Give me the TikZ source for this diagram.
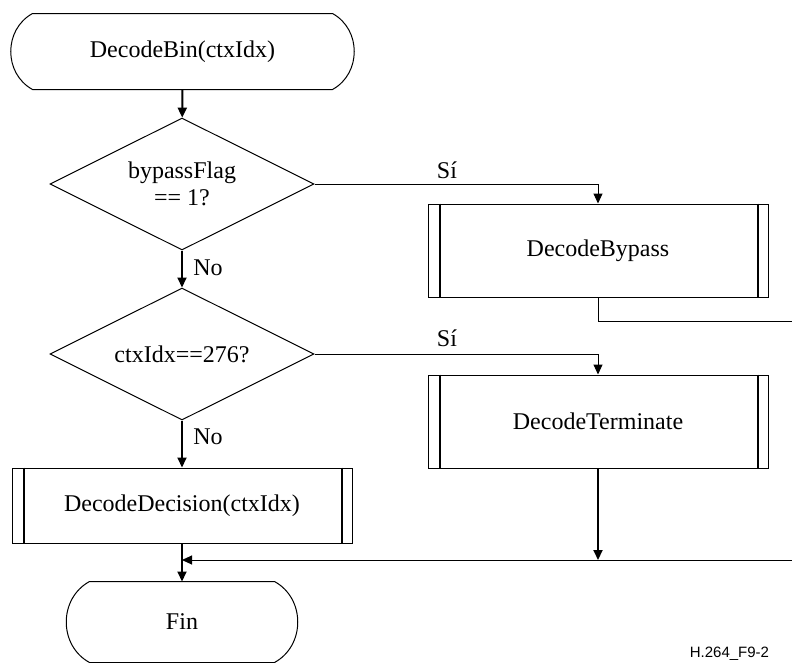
\documentclass[tikz,border=0pt]{standalone}
\usepackage{fontspec}
\setmainfont{Liberation Serif}
\newfontfamily\labelfont{Liberation Sans}
\usetikzlibrary{arrows.meta,positioning,shapes.geometric}

\begin{document}
\begin{tikzpicture}[x=1pt,y=-1pt,every node/.style={font=\fontsize{24}{27}\selectfont},line width=1pt,term/.style={rectangle,inner sep=0pt,align=center},proc/.style={rectangle,draw,minimum width=340pt,align=center},dec/.style={diamond,draw,aspect=2,inner sep=0pt,minimum width=264pt,minimum height=132pt,align=center},flow/.style={line width=2pt,-{Triangle[length=10pt,width=9pt]}},link/.style={line width=1pt,-{Triangle[length=10pt,width=9pt]}},bar/.style={line width=2pt}]
\clip (0,0) rectangle (792,662);
\node[term,minimum width=299pt,minimum height=75pt] (start) at (182.5,51.5) {DecodeBin(ctxIdx)};
\draw (start.north west) -- (start.north east) .. controls +(29,16) and +(29,-16) .. (start.south east) -- (start.south west) .. controls +(-29,-16) and +(-29,16) .. (start.north west);
\node[dec] (d1) at (182,184) {bypassFlag\\== 1?};
\node[dec] (d2) at (182,354) {ctxIdx==276?};
\node[proc,minimum height=93pt] (bypass) at (598,250.5) {DecodeBypass};
\node[proc,minimum height=93pt] (term) at (598,421.5) {DecodeTerminate};
\node[proc,minimum height=75pt] (decision) at (182,505.5) {DecodeDecision(ctxIdx)};
\foreach \b in {bypass,term,decision} {
  \draw[bar] ([xshift=12pt]\b.north west) -- ([xshift=12pt]\b.south west);
  \draw[bar] ([xshift=-11pt]\b.north east) -- ([xshift=-11pt]\b.south east);
}
\node[term,minimum width=184pt,minimum height=80pt] (fin) at (182,622) {Fin};
\draw (fin.north west) -- (fin.north east) .. controls +(31,17) and +(31,-17) .. (fin.south east) -- (fin.south west) .. controls +(-31,-17) and +(-31,17) .. (fin.north west);
% labels
\node (si1) at (447,170) {Sí};
\node (si2) at (447,338) {Sí};
\node (no1) at (208,268) {No};
\node (no2) at (208,437) {No};
\node[font=\labelfont\fontsize{15}{15}\selectfont,anchor=base west] (fig) at (686,657) {H.264\_F9-2};
% connectors
\coordinate (out1) at (800,321);
\coordinate (out2) at (800,560);
\draw[flow] (start) -- (d1);
\draw[flow] (d1) -- (d2);
\draw[flow] (d2) -- (decision);
\draw[link] (d1.east) -| (bypass.north);
\draw[link] (d2.east) -| (term.north);
\draw (bypass.south) |- (out1);
\draw[flow] (term.south) -- (term.south |- out2);
\draw[link] (out2) -- (decision.south |- out2);
\draw[flow] (decision) -- (fin);
\end{tikzpicture}
\end{document}
